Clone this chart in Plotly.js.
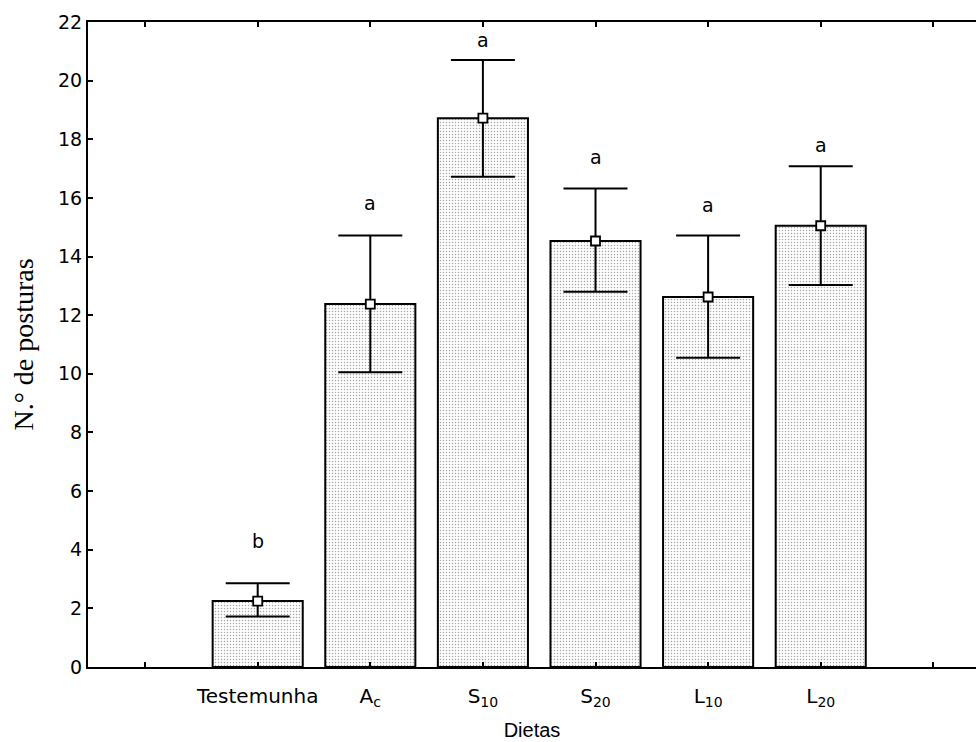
<!DOCTYPE html>
<html>
<head>
<meta charset="utf-8">
<script src="https://cdn.plot.ly/plotly-3.0.1.min.js"></script>
<style>html,body{margin:0;padding:0;background:#fff;}#chart{width:976px;height:742px;}</style>
</head>
<body>
<div id="chart"></div>
<script>
// Categories (blank placeholders at both ends of the axis)
const categories = [" ", "Testemunha", "A<sub>c</sub>", "S<sub>10</sub>", "S<sub>20</sub>", "L<sub>10</sub>", "L<sub>20</sub>", "  "];
const dietas = ["Testemunha", "A<sub>c</sub>", "S<sub>10</sub>", "S<sub>20</sub>", "L<sub>10</sub>", "L<sub>20</sub>"];
const means = [2.25, 12.38, 18.72, 14.53, 12.62, 15.05];
const upper = [2.86, 14.72, 20.70, 16.32, 14.72, 17.08];
const lower = [1.72, 10.05, 16.72, 12.80, 10.55, 13.03];
const letters = ["b", "a", "a", "a", "a", "a"];
const letterY = [3.85, 15.40, 20.95, 16.95, 15.30, 17.35];

const errPlus = means.map((m, i) => upper[i] - m);
const errMinus = means.map((m, i) => m - lower[i]);

const bars = {
  type: "bar",
  x: dietas,
  y: means,
  width: 0.8,
  marker: {
    color: "#ffffff",
    line: {color: "#000000", width: 2},
    pattern: {shape: ".", size: 3, solidity: 0.2, fgcolor: "#a6a6a6", bgcolor: "#ffffff", fillmode: "replace"}
  },
  hoverinfo: "skip",
  showlegend: false
};

const points = {
  type: "scatter",
  mode: "markers",
  x: dietas,
  y: means,
  marker: {symbol: "square", size: 9, color: "#ffffff", line: {color: "#000000", width: 1.8}},
  error_y: {type: "data", symmetric: false, array: errPlus, arrayminus: errMinus, color: "#000000", thickness: 2, width: 32},
  showlegend: false
};

const annotations = dietas.map((d, i) => ({
  x: d, y: letterY[i], xref: "x", yref: "y",
  text: letters[i], showarrow: false, yanchor: "bottom",
  font: {family: "DejaVu Sans, sans-serif", size: 19, color: "#000"}
}));

const layout = {
  width: 976, height: 742,
  margin: {l: 88, r: 0, t: 22, b: 75},
  paper_bgcolor: "#ffffff",
  plot_bgcolor: "#ffffff",
  bargap: 0.2,
  xaxis: {
    type: "category",
    categoryorder: "array",
    categoryarray: categories,
    range: [-0.507, 7.379],
    showline: true, linecolor: "#000", linewidth: 2,
    mirror: "ticks",
    ticks: "inside", ticklen: 5, tickwidth: 2, tickcolor: "#000",
    ticklabelstandoff: 10,
    showgrid: false, zeroline: false,
    tickfont: {family: "DejaVu Sans, sans-serif", size: 20, color: "#000"},
    title: {text: "Dietas", font: {family: "Liberation Sans, Arial, sans-serif", size: 20, color: "#000"}, standoff: 14}
  },
  yaxis: {
    range: [0, 22],
    tickvals: [0, 2, 4, 6, 8, 10, 12, 14, 16, 18, 20, 22],
    showline: true, linecolor: "#000", linewidth: 2,
    ticks: "inside", ticklen: 5, tickwidth: 2, tickcolor: "#000",
    showgrid: false, zeroline: false,
    tickfont: {family: "DejaVu Sans, sans-serif", size: 19, color: "#000"},
    title: {text: "N.° de posturas", font: {family: "Liberation Serif, Times New Roman, serif", size: 28, color: "#000"}, standoff: 16}
  },
  annotations: annotations
};

Plotly.newPlot("chart", [bars, points], layout, {displayModeBar: false, staticPlot: true});
</script>
</body>
</html>
